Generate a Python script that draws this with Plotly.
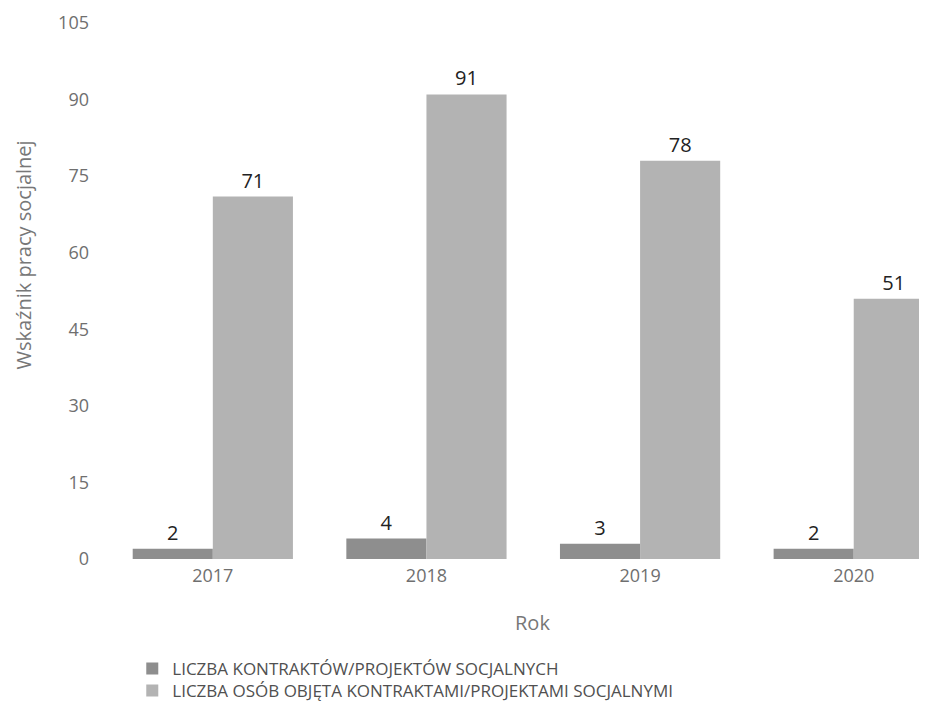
import plotly.graph_objects as go

years = ["2017", "2018", "2019", "2020"]
kontrakty = [2, 4, 3, 2]
osoby = [71, 91, 78, 51]
series_names = ["LICZBA KONTRAKTÓW/PROJEKTÓW SOCJALNYCH",
                "LICZBA OSÓB OBJĘTA KONTRAKTAMI/PROJEKTAMI SOCJALNYMI"]
y_ticks = [0, 15, 30, 45, 60, 75, 90, 105]

FONT = "Open Sans, Noto Sans, DejaVu Sans, sans-serif"

fig = go.Figure()
fig.add_trace(go.Bar(
    x=years, y=kontrakty, name=series_names[0], legend="legend",
    marker=dict(color="#8e8e8e", line=dict(width=0)),
    text=[str(v) for v in kontrakty], textposition="outside",
    textfont=dict(size=20, color="#222222", family=FONT),
    cliponaxis=False,
))
fig.add_trace(go.Bar(
    x=years, y=osoby, name=series_names[1], legend="legend2",
    marker=dict(color="#b3b3b3", line=dict(width=0)),
    text=[str(v) for v in osoby], textposition="outside",
    textfont=dict(size=20, color="#222222", family=FONT),
    cliponaxis=False,
))

legend_common = dict(
    orientation="v", x=0.032, xanchor="left", yanchor="top",
    font=dict(size=17, color="#505050", family=FONT),
    itemwidth=30, bgcolor="rgba(0,0,0,0)",
)

fig.update_layout(
    width=919, height=701,
    margin=dict(l=98, r=0, t=15, b=150),
    paper_bgcolor="white", plot_bgcolor="white",
    barmode="group", bargap=0.25, bargroupgap=0,
    font=dict(family=FONT, color="#6f6f6f", size=18),
    showlegend=True,
    legend=dict(y=-0.1715, **legend_common),
    legend2=dict(y=-0.2125, **legend_common),
    xaxis=dict(
        type="category", range=[-0.5, 3.343],
        showgrid=False, zeroline=False, showline=False,
        tickfont=dict(size=18, color="#6f6f6f"),
        ticks="", ticklabelstandoff=4,
    ),
    yaxis=dict(
        range=[0, 105], tickvals=y_ticks,
        showgrid=False, zeroline=False, showline=False,
        tickfont=dict(size=18, color="#6f6f6f"),
        ticks="", ticklabelstandoff=16,
    ),
    annotations=[
        dict(text="Wskaźnik pracy socjalnej", textangle=-90,
             xref="paper", yref="paper", x=-0.1005, y=0.567,
             xanchor="center", yanchor="middle", showarrow=False,
             font=dict(size=20, color="#777777", family=FONT)),
        dict(text="Rok", xref="paper", yref="paper",
             x=0.519, y=-0.118, xanchor="center", yanchor="middle",
             showarrow=False,
             font=dict(size=20, color="#777777", family=FONT)),
    ],
)

fig.write_html("out.html")
